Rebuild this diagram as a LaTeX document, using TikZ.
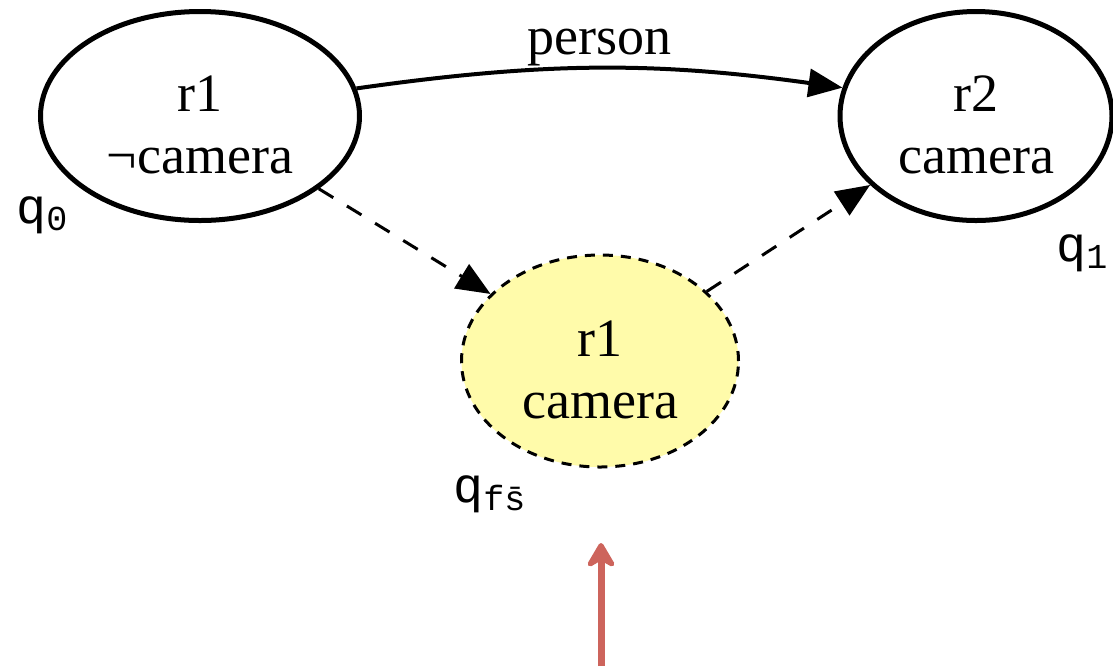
\documentclass[tikz,border=0pt]{standalone}
\usepackage{amsmath}
\usepackage{amssymb}
\usepackage{fontspec}
\setmainfont{Liberation Serif}
\setmonofont{Liberation Mono}
\usepackage{tikz}
\usetikzlibrary{shapes.geometric,arrows.meta}
\definecolor{hypofill}{RGB}{255,251,170}
\definecolor{pointred}{RGB}{205,100,92}
\newcommand{\topstrut}{\rule{0pt}{27pt}}

\begin{document}
\begin{tikzpicture}[x=0.5pt, y=-0.5pt,
    state/.style={draw, ellipse, line width=2.5pt, inner sep=0pt, align=center,
                  font=\fontsize{27}{31}\selectfont},
    hypo/.style={state, line width=1.5pt, dash pattern=on 5pt off 4pt, fill=hypofill},
    qlab/.style={anchor=base west, inner sep=0pt, font=\fontsize{25}{28}\selectfont\ttfamily},
    trans/.style={-{Triangle[length=17pt,width=14pt]}, line width=2pt, draw},
    guess/.style={trans, line width=1.5pt, dash pattern=on 8.5pt off 8pt},
    pointer/.style={-{Stealth[length=15pt,width=17.5pt,inset=5pt,round]}, line width=3.5pt, draw=pointred}
 ]
\useasboundingbox (0,0) rectangle (1113,666);

\node [state, minimum width=159.5pt, minimum height=104.5pt] (Q0) at (200,116) {\topstrut r1\\¬camera};
\node [state, minimum width=136pt, minimum height=104.5pt] (Q1) at (976,116) {\topstrut r2\\camera};
\node [hypo, minimum width=138.5pt, minimum height=106pt] (QF) at (600,361) {\topstrut r1\\camera};

\node [qlab] (q0lab) at (16,223) {q\textsubscript{0}};
\node [qlab] (q1lab) at (1056,261) {q\textsubscript{1}};
\node [qlab] (qflab) at (453,502) {q\textsubscript{f\=s}};

\draw [trans] (Q0.10) to[bend left=8]
    node [midway, above, inner sep=0pt, font=\fontsize{27}{31}\selectfont] (lperson) {person} (Q1.168);
\draw [guess] (Q0) -- (QF);
\draw [guess] (QF) -- (Q1);

\coordinate (ptrfoot) at (601,666);
\coordinate (ptrhead) at (601,543);
\draw [pointer] (ptrfoot) -- (ptrhead);
%\draw (Q0) to[bend right=20] (QF);
\end{tikzpicture}
\end{document}
